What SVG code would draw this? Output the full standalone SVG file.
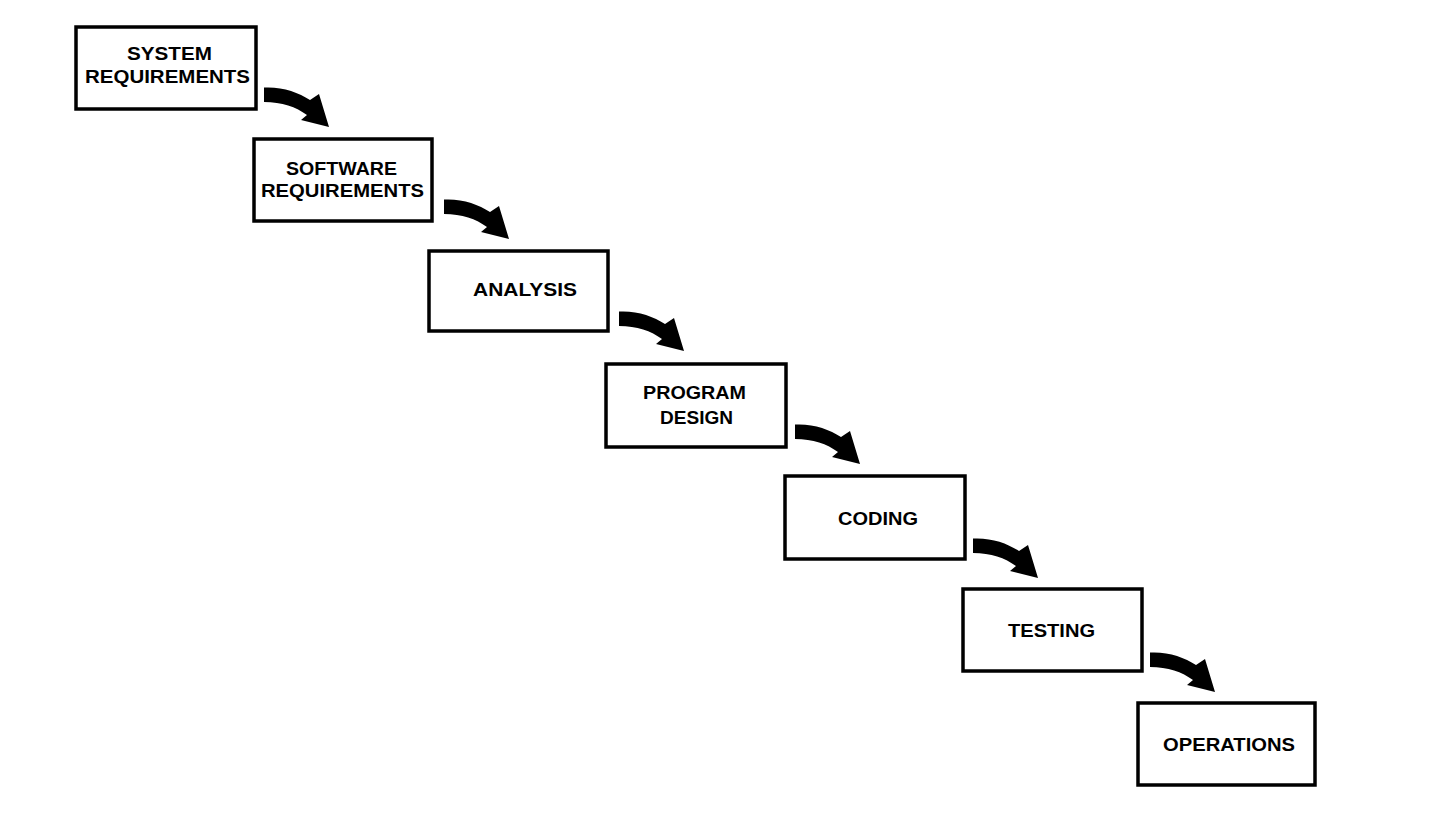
<svg xmlns="http://www.w3.org/2000/svg" width="1432" height="817" viewBox="0 0 1432 817">
<defs>
<style>
.box{fill:#fff;stroke:#000;stroke-width:3.5}
.lbl{font-family:"Liberation Sans",Arial,sans-serif;font-weight:bold;font-size:17.5px;fill:#000}
.arr{fill:#000;stroke:none}
</style>
<path id="arrow" d="M0,-0.5 C18,-1.5 34,4 46,12 L55,6 L65,39 L37,32 L43,27 C32,19 18,14 0,14 Z"/>
</defs>
<rect width="1432" height="817" fill="#fff"/>
<g id="connectors" class="arr">
<use href="#arrow" x="264" y="88"/>
<use href="#arrow" x="444" y="200"/>
<use href="#arrow" x="619" y="312"/>
<use href="#arrow" x="795" y="425"/>
<use href="#arrow" x="973" y="539"/>
<use href="#arrow" x="1150" y="653"/>
</g>
<g id="system-requirements">
<rect class="box" x="76" y="27" width="180" height="82"/>
<text class="lbl" x="127" y="60" textLength="85" lengthAdjust="spacingAndGlyphs">SYSTEM</text>
<text class="lbl" x="85" y="83" textLength="165" lengthAdjust="spacingAndGlyphs">REQUIREMENTS</text>
</g>
<g id="software-requirements">
<rect class="box" x="254" y="139" width="178" height="82"/>
<text class="lbl" x="286" y="175" textLength="111" lengthAdjust="spacingAndGlyphs">SOFTWARE</text>
<text class="lbl" x="261" y="197" textLength="163" lengthAdjust="spacingAndGlyphs">REQUIREMENTS</text>
</g>
<g id="analysis">
<rect class="box" x="429" y="251" width="179" height="80"/>
<text class="lbl" x="473" y="296" textLength="104" lengthAdjust="spacingAndGlyphs">ANALYSIS</text>
</g>
<g id="program-design">
<rect class="box" x="606" y="364" width="180" height="83"/>
<text class="lbl" x="643" y="399" textLength="103" lengthAdjust="spacingAndGlyphs">PROGRAM</text>
<text class="lbl" x="660" y="424" textLength="73" lengthAdjust="spacingAndGlyphs">DESIGN</text>
</g>
<g id="coding">
<rect class="box" x="785" y="476" width="180" height="83"/>
<text class="lbl" x="838" y="525" textLength="80" lengthAdjust="spacingAndGlyphs">CODING</text>
</g>
<g id="testing">
<rect class="box" x="963" y="589" width="179" height="82"/>
<text class="lbl" x="1008" y="637" textLength="87" lengthAdjust="spacingAndGlyphs">TESTING</text>
</g>
<g id="operations">
<rect class="box" x="1138" y="703" width="177" height="82"/>
<text class="lbl" x="1163" y="751" textLength="132" lengthAdjust="spacingAndGlyphs">OPERATIONS</text>
</g>
</svg>
